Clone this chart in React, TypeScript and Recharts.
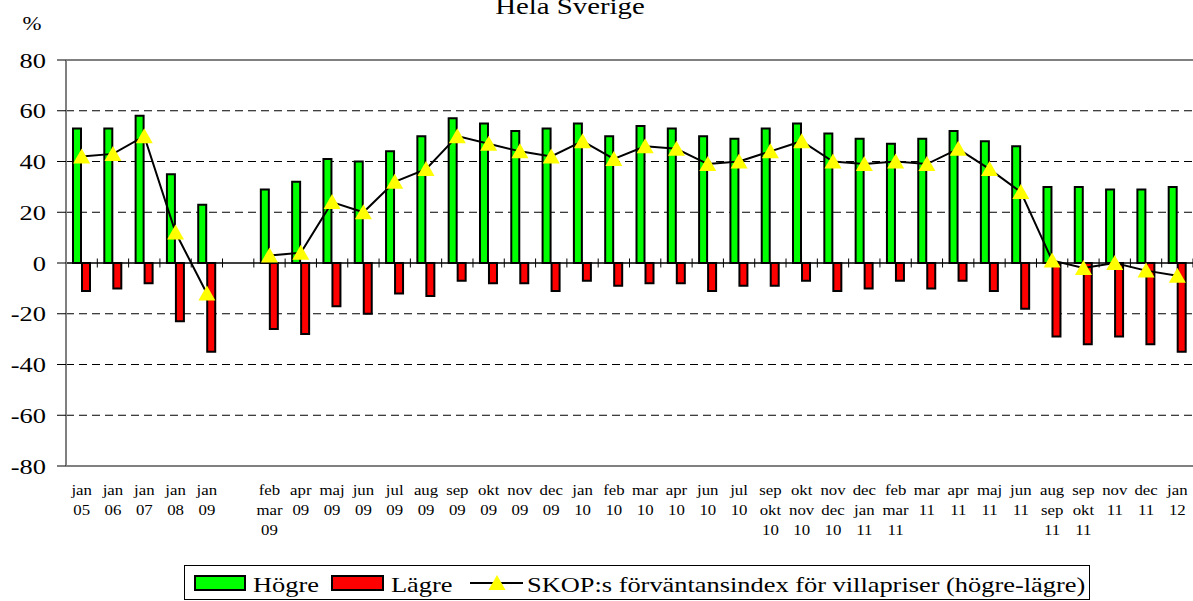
import React from 'react';
import { ComposedChart, Bar, Line, XAxis, YAxis, ReferenceLine, CartesianGrid, Legend } from 'recharts';

// ---------- data ----------
const categories: string[] = [
  'jan 05', 'jan 06', 'jan 07', 'jan 08', 'jan 09', '',
  'feb mar 09', 'apr 09', 'maj 09', 'jun 09', 'jul 09', 'aug 09', 'sep 09', 'okt 09', 'nov 09', 'dec 09',
  'jan 10', 'feb 10', 'mar 10', 'apr 10', 'jun 10', 'jul 10', 'sep okt 10', 'okt nov 10', 'nov dec 10', 'dec jan 11',
  'feb mar 11', 'mar 11', 'apr 11', 'maj 11', 'jun 11', 'aug sep 11', 'sep okt 11', 'nov 11', 'dec 11', 'jan 12',
];
const hogre: (number | null)[] = [
  53, 53, 58, 35, 23, null,
  29, 32, 41, 40, 44, 50, 57, 55, 52, 53,
  55, 50, 54, 53, 50, 49, 53, 55, 51, 49,
  47, 49, 52, 48, 46, 30, 30, 29, 29, 30,
];
const lagre: (number | null)[] = [
  -11, -10, -8, -23, -35, null,
  -26, -28, -17, -20, -12, -13, -7, -8, -8, -11,
  -7, -9, -8, -8, -11, -9, -9, -7, -11, -10,
  -7, -10, -7, -11, -18, -29, -32, -29, -32, -35,
];
const indexValues: (number | null)[] = [
  42, 43, 50, 12, -12, null,
  3, 4, 24, 20, 32, 37, 50, 47, 44, 42,
  48, 41, 46, 45, 39, 40, 44, 48, 40, 39,
  40, 39, 45, 37, 28, 1, -2, 0, -3, -5,
];
const yTicks = [-80, -60, -40, -20, 0, 20, 40, 60, 80];
const gridValues = [-60, -40, -20, 20, 40, 60];
const titleText = 'Hela Sverige';
const unitText = '%';
const nameHogre = 'Högre';
const nameLagre = 'Lägre';
const nameIndex = 'SKOP:s förväntansindex för villapriser (högre-lägre)';

const data = categories.map((c, i) => ({
  cat: c,
  hogre: hogre[i],
  lagre: lagre[i],
  index: indexValues[i],
}));

// ---------- style ----------
const FONT = "'Liberation Serif', 'Times New Roman', serif";
const SX = 1.2;
const W = 1193;
const H = 601;
const GREEN = '#00FF00';
const RED = '#FF0000';
const YELLOW = '#FFFF00';
const GRAY = '#808080';

const XTick = (props: any) => {
  const { x, y, payload } = props;
  const lines = String(payload.value).split(' ').filter(Boolean);
  return (
    <g transform={`translate(${x},${y})`}>
      {lines.map((l, i) => (
        <text
          key={i}
          transform={`translate(0,${29 + i * 20}) scale(${SX},1)`}
          textAnchor="middle"
          fontFamily={FONT}
          fontSize={14}
          fill="#000"
        >
          {l}
        </text>
      ))}
    </g>
  );
};

const YTick = (props: any) => {
  const { x, y, payload } = props;
  return (
    <text
      transform={`translate(${x},${y}) scale(${SX},1)`}
      textAnchor="end"
      dy="0.35em"
      fontFamily={FONT}
      fontSize={22}
      fill="#000"
    >
      {payload.value}
    </text>
  );
};

const Tri = (props: any) => {
  const { cx, cy, value, index } = props;
  if (value == null || cx == null || cy == null || Number.isNaN(cy)) return <g key={`t${index}`} />;
  return <path key={`t${index}`} d={`M${cx},${cy - 8} L${cx + 8.5},${cy + 7} L${cx - 8.5},${cy + 7} Z`} fill={YELLOW} />;
};

const ZeroAxis = (props: any) => {
  const { x1, y1, x2, y2 } = props;
  const n = categories.length;
  const step = (x2 - x1) / n;
  return (
    <g>
      <line x1={x1} y1={y1} x2={x2} y2={y2} stroke="#000" strokeWidth={1.5} />
      {Array.from({ length: n + 1 }, (_, k) => (
        <line key={k} x1={x1 + k * step} x2={x1 + k * step} y1={y1 - 4.5} y2={y1 + 4.5} stroke="#000" strokeWidth={1} />
      ))}
    </g>
  );
};

const LW = 906;
const LH = 35;
const LegendBox = () => (
  <div style={{ width: LW, height: LH, border: '1px solid #000', boxSizing: 'border-box', background: '#fff' }}>
    <svg width={LW - 2} height={LH - 2} style={{ display: 'block' }}>
      <rect x={10} y={10} width={50} height={14} fill={GREEN} stroke="#000" strokeWidth={2} />
      <text transform={`translate(68,26) scale(${SX},1)`} fontFamily={FONT} fontSize={22} fill="#000">{nameHogre}</text>
      <rect x={147} y={10} width={51} height={14} fill={RED} stroke="#000" strokeWidth={2} />
      <text transform={`translate(206,26) scale(${SX},1)`} fontFamily={FONT} fontSize={22} fill="#000">{nameLagre}</text>
      <line x1={285} x2={338} y1={17} y2={17} stroke="#000" strokeWidth={2} />
      <path d={`M312,${17 - 8} L${312 + 8.5},${17 + 7} L${312 - 8.5},${17 + 7} Z`} fill={YELLOW} />
      <text transform={`translate(342,26) scale(${SX},1)`} fontFamily={FONT} fontSize={22} fill="#000">{nameIndex}</text>
    </svg>
  </div>
);

export default function App() {
  return (
    <div style={{ position: 'absolute', left: 0, top: 0, width: W, height: H, background: '#fff' }}>
      <ComposedChart
        width={W}
        height={H}
        data={data}
        margin={{ top: 60, right: 0, bottom: 0, left: 0 }}
        barSize={8}
        barGap={1}
      >
        <CartesianGrid
          horizontal
          vertical={false}
          horizontalValues={gridValues}
          stroke="#000"
          strokeDasharray="8 5"
        />
        <XAxis
          dataKey="cat"
          interval={0}
          height={135}
          tickSize={0}
          tickMargin={0}
          tickLine={false}
          axisLine={{ stroke: GRAY, strokeWidth: 2 }}
          tick={<XTick />}
        />
        <YAxis
          domain={[-80, 80]}
          ticks={yTicks}
          interval={0}
          width={66}
          tickSize={9}
          tickMargin={11}
          axisLine={{ stroke: GRAY, strokeWidth: 2 }}
          tickLine={{ stroke: '#000' }}
          tick={<YTick />}
          allowDataOverflow
        />
        <ReferenceLine y={80} stroke={GRAY} strokeWidth={2} />
        <ReferenceLine y={0} shape={ZeroAxis} />
        <Bar dataKey="hogre" name={nameHogre} fill={GREEN} stroke="#000" strokeWidth={2} isAnimationActive={false} />
        <Bar dataKey="lagre" name={nameLagre} fill={RED} stroke="#000" strokeWidth={2} isAnimationActive={false} />
        <Line
          dataKey="index"
          name={nameIndex}
          stroke="#000"
          strokeWidth={2}
          dot={Tri}
          activeDot={false}
          connectNulls={false}
          isAnimationActive={false}
        />
        <Legend
          layout="vertical"
          align="center"
          verticalAlign="middle"
          content={<LegendBox />}
          wrapperStyle={{ position: 'absolute', left: 184, top: 565, width: LW, height: LH }}
        />
      </ComposedChart>
      <svg width={W} height={60} style={{ position: 'absolute', left: 0, top: 0, pointerEvents: 'none' }}>
        <text transform={`translate(570,14) scale(${SX},1)`} textAnchor="middle" fontFamily={FONT} fontSize={24} fill="#000">{titleText}</text>
        <text transform={`translate(32,30) scale(${SX},1)`} textAnchor="middle" fontFamily={FONT} fontSize={19} fill="#000">{unitText}</text>
      </svg>
    </div>
  );
}
